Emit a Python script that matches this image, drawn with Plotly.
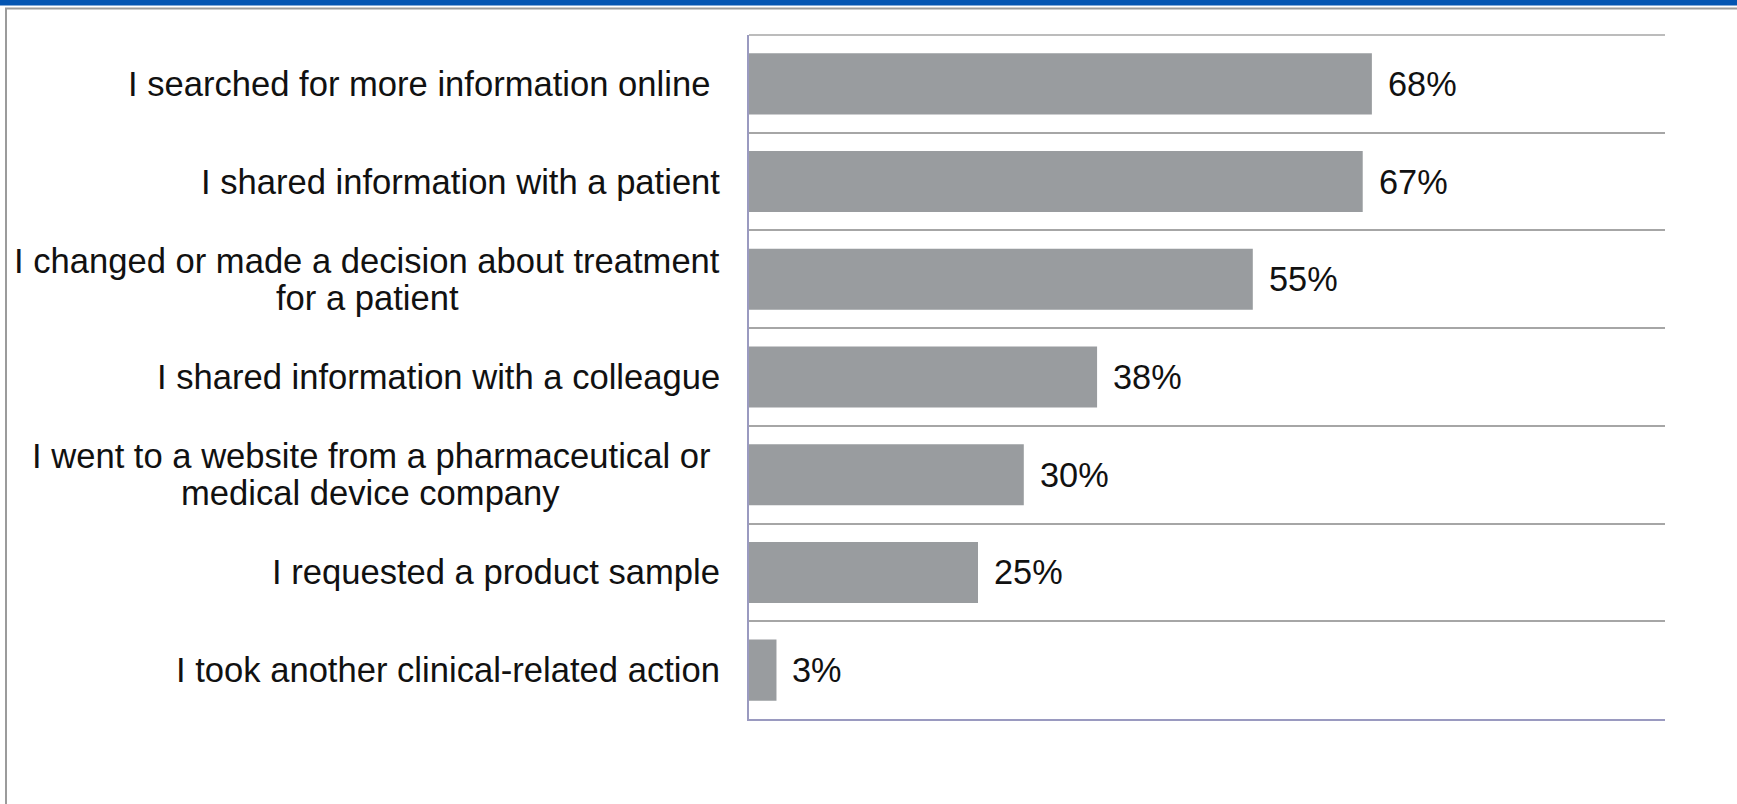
import plotly.graph_objects as go

categories = [
    "I searched for more information online ",
    "I shared information with a patient",
    "I changed or made a decision about treatment<br>for a patient",
    "I shared information with a colleague",
    "I went to a website from a pharmaceutical or <br>medical device company",
    "I requested a product sample",
    "I took another clinical-related action",
]
values = [68, 67, 55, 38, 30, 25, 3]
value_labels = ["68%", "67%", "55%", "38%", "30%", "25%", "3%"]

W, H = 1737, 804
ML, MR, MT, MB = 749, 72, 35, 85
PW, PH = W - ML - MR, H - MT - MB
FS = 34.6
FS_VAL = 34.3
FONT = "Arial, Liberation Sans, sans-serif"
GAP = 29
LINE_H = 36.6

# Arial / Liberation Sans advance widths (per 1000 em)
AW = {" ": 278, "-": 333, "%": 889, "I": 278, "a": 556, "b": 556, "c": 500, "d": 556,
      "e": 556, "f": 278, "g": 556, "h": 556, "i": 222, "j": 222, "k": 500, "l": 222,
      "m": 833, "n": 556, "o": 556, "p": 556, "q": 556, "r": 333, "s": 500, "t": 278,
      "u": 556, "v": 500, "w": 722, "x": 500, "y": 500, "z": 500}


def tw(s):
    return sum(AW.get(c, 556) for c in s) * FS / 1000.0


def px2x(px):
    return (px - ML) / PW


def py2y(py):
    return (H - MB - py) / PH


fig = go.Figure()
fig.add_trace(go.Bar(
    x=values, y=categories, orientation="h",
    marker=dict(color="#999c9f", line=dict(width=0)),
    width=0.625, hoverinfo="skip", showlegend=False,
))

annotations = []
for cat, v, lab in zip(categories, values, value_labels):
    annotations.append(dict(
        x=v, y=cat, xref="x", yref="y", text=lab, showarrow=False,
        xanchor="left", yanchor="middle", xshift=14,
        font=dict(family=FONT, size=FS_VAL, color="#111111"),
    ))
    lines = cat.split("<br>")
    n = len(lines)
    widths = [tw(l.rstrip()) for l in lines]
    iw = max(range(n), key=lambda i: widths[i])
    trail = tw(lines[iw]) - widths[iw]
    for i, line in enumerate(lines):
        ys = ((n - 1) / 2 - i) * LINE_H
        txt = line.rstrip() + "&nbsp;" * (len(line) - len(line.rstrip()))
        if i == iw:
            annotations.append(dict(
                x=0, y=cat, xref="paper", yref="y", text=txt, showarrow=False,
                xanchor="right", yanchor="middle", xshift=-GAP + 2, yshift=ys,
                font=dict(family=FONT, size=FS, color="#111111"),
            ))
        else:
            annotations.append(dict(
                x=0, y=cat, xref="paper", yref="y", text=txt, showarrow=False,
                xanchor="center", yanchor="middle",
                xshift=-GAP - trail - widths[iw] / 2, yshift=ys,
                font=dict(family=FONT, size=FS, color="#111111"),
            ))

shapes = [
    # blue title strip
    dict(type="rect", xref="paper", yref="paper", x0=px2x(0), x1=px2x(W),
         y0=py2y(0), y1=py2y(5.5), fillcolor="#0455b2", line=dict(width=0), layer="above"),
    # window frame lines
    dict(type="line", xref="paper", yref="paper", x0=px2x(5), x1=px2x(W),
         y0=py2y(8.5), y1=py2y(8.5), line=dict(color="#9b9b9b", width=2)),
    dict(type="line", xref="paper", yref="paper", x0=px2x(6), x1=px2x(6),
         y0=py2y(8), y1=py2y(H), line=dict(color="#9b9b9b", width=2)),
    # top border of plot area
    dict(type="line", xref="paper", yref="paper", x0=0, x1=1, y0=1, y1=1,
         line=dict(color="#a6a6a6", width=1.5)),
]

fig.update_layout(
    width=W, height=H,
    margin=dict(l=ML, r=MR, t=MT, b=MB, pad=0),
    paper_bgcolor="white", plot_bgcolor="white",
    annotations=annotations, shapes=shapes,
    showlegend=False,
    xaxis=dict(range=[0, 100], showgrid=False, zeroline=False, showticklabels=False,
               showline=True, linecolor="#9a9ac0", linewidth=1.5, ticks="",
               fixedrange=True),
    yaxis=dict(type="category", autorange="reversed", tickson="boundaries",
               showgrid=True, gridcolor="#a6a6a6", gridwidth=1.5,
               showticklabels=False, ticks="", showline=True,
               linecolor="#9a9ac0", linewidth=1.5, zeroline=False, fixedrange=True),
)

fig.write_html("out.html")
